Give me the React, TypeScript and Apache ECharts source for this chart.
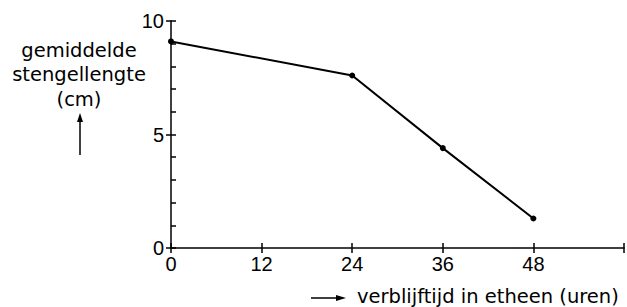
import React, { useEffect, useRef } from "react";
import * as echarts from "echarts";

const hours = [0, 24, 36, 48];
const lengths = [9.1, 7.6, 4.4, 1.3];
const xTicks = [0, 12, 24, 36, 48];
const yTicks = [0, 5, 10];
const yTitleLines = ["gemiddelde", "stengellengte", "(cm)"];
const xTitle = "verblijftijd in etheen (uren)";

export default function App() {
  const ref = useRef<HTMLDivElement>(null);
  useEffect(() => {
    document.body.style.margin = "0";
    const chart = echarts.init(ref.current!, null, { renderer: "svg" });
    const font = "DejaVu Sans";
    const numFont = "Liberation Sans";
    const data = hours.map((h, i) => [h, lengths[i]]);
    chart.setOption({
      animation: false,
      backgroundColor: "#fff",
      grid: { left: 171, right: 2, top: 21, bottom: 59 },
      xAxis: [
        {
          type: "value",
          min: 0,
          max: 60,
          interval: 12,
          splitLine: { show: false },
          axisLine: { lineStyle: { color: "#000", width: 1.5 } },
          axisTick: { show: true, length: 5, lineStyle: { color: "#000", width: 1.5 } },
          axisLabel: {
            color: "#000",
            fontSize: 20,
            fontFamily: numFont,
            margin: 6,
            formatter: (v: number) => (xTicks.includes(v) ? String(v) : ""),
          },
        },
        {
          type: "value",
          min: 0,
          max: 60,
          interval: 12,
          position: "bottom",
          splitLine: { show: false },
          axisLine: { show: false },
          axisTick: { show: true, inside: true, length: 5, lineStyle: { color: "#000", width: 1.5 } },
          axisLabel: { show: false },
        },
      ],
      yAxis: [
        {
          type: "value",
          min: 0,
          max: 10,
          interval: 5,
          splitLine: { show: false },
          axisLine: { show: true, lineStyle: { color: "#000", width: 1.5 } },
          axisTick: { show: true, length: 5, lineStyle: { color: "#000", width: 1.5 } },
          axisLabel: {
            color: "#000",
            fontSize: 20,
            fontFamily: numFont,
            margin: 7,
            formatter: (v: number) => (yTicks.includes(v) ? String(v) : ""),
          },
        },
        {
          type: "value",
          min: 0,
          max: 10,
          interval: 1,
          position: "left",
          splitLine: { show: false },
          axisLine: { show: false },
          axisTick: { show: true, inside: true, length: 5, lineStyle: { color: "#000", width: 1.5 } },
          axisLabel: { show: false },
        },
      ],
      series: [
        {
          type: "line",
          xAxisIndex: 0,
          yAxisIndex: 0,
          data,
          symbol: "circle",
          symbolSize: 6,
          lineStyle: { color: "#000", width: 2 },
          itemStyle: { color: "#000" },
        },
      ],
      graphic: [
        ...yTitleLines.map((t, i) => ({
          type: "text",
          x: 79,
          y: 50 + i * 24.5,
          style: {
            text: t,
            fontSize: 19.5,
            fontFamily: font,
            fill: "#000",
            align: "center",
            verticalAlign: "middle",
          },
        })),
        { type: "line", shape: { x1: 80, y1: 155, x2: 80, y2: 119 }, style: { stroke: "#000", lineWidth: 1.5 } },
        { type: "polygon", shape: { points: [[80, 113], [77, 122], [83, 122]] }, style: { fill: "#000" } },
        { type: "line", shape: { x1: 311, y1: 298, x2: 340, y2: 298 }, style: { stroke: "#000", lineWidth: 1.5 } },
        { type: "polygon", shape: { points: [[346, 298], [336, 295], [336, 301]] }, style: { fill: "#000" } },
        {
          type: "text",
          x: 357,
          y: 296,
          style: {
            text: xTitle,
            fontSize: 19.5,
            fontFamily: font,
            fill: "#000",
            align: "left",
            verticalAlign: "middle",
          },
        },
      ],
    });
    return () => chart.dispose();
  }, []);
  return <div ref={ref} style={{ width: 627, height: 307 }} />;
}
